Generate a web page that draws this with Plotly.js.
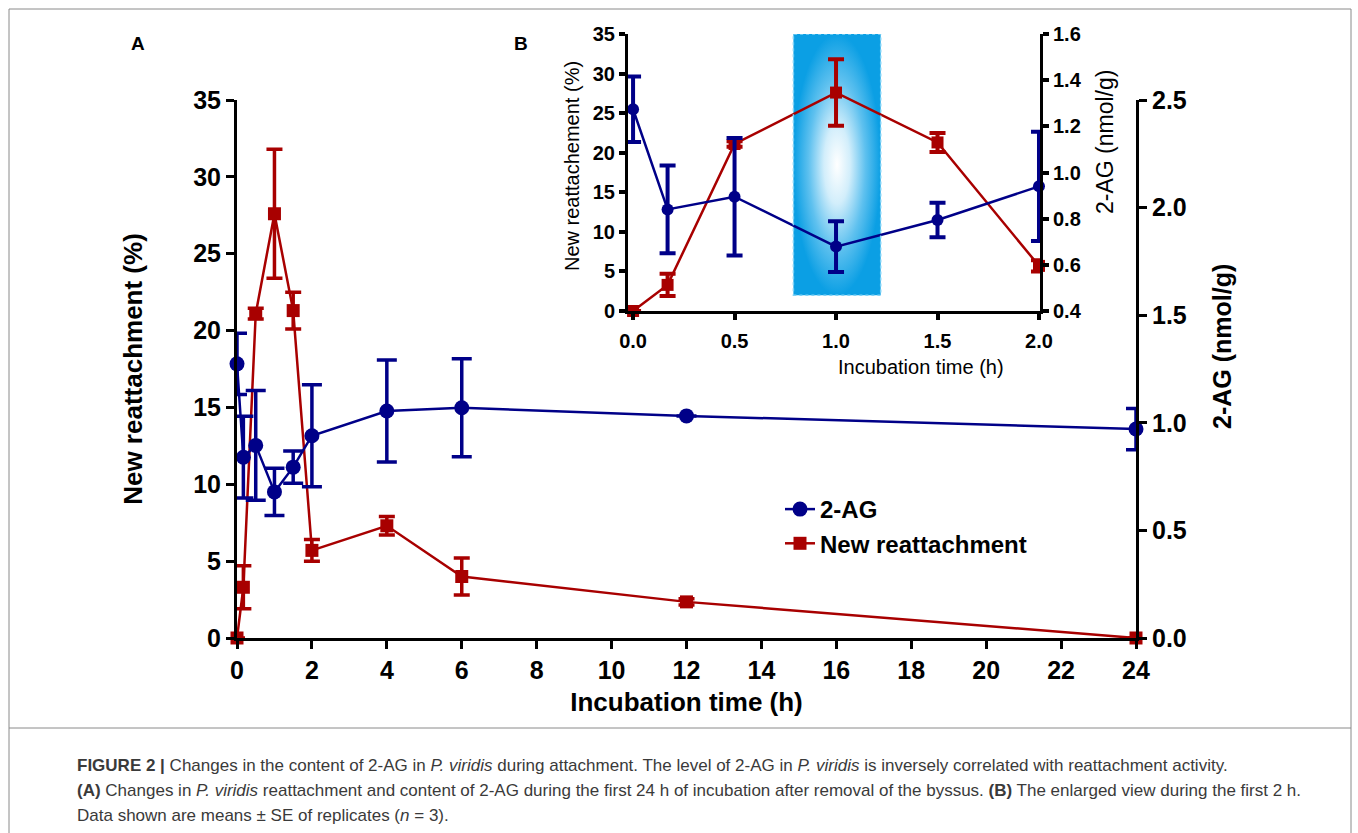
<!DOCTYPE html>
<html>
<head>
<meta charset="utf-8">
<script src="https://cdn.plot.ly/plotly-3.0.1.min.js"></script>
<style>
  html, body { margin: 0; padding: 0; background: #ffffff; }
  #chart { width: 1358px; height: 833px; }
</style>
</head>
<body>
<div id="chart"></div>
<script>
// ---------------- DATA ----------------
const timeH        = [0, 0.17, 0.5, 1, 1.5, 2, 4, 6, 12, 24];           // incubation time (h)
const reattachPct  = [0, 3.3, 21.1, 27.6, 21.3, 5.7, 7.3, 4.0, 2.35, 0]; // new reattachment (%)
const reattachSE   = [0, 1.4, 0.35, 4.2, 1.2, 0.7, 0.6, 1.2, 0.2, 0];
const agNmol       = [1.274, 0.84, 0.895, 0.679, 0.794, 0.94, 1.055, 1.07, 1.032, 0.971]; // 2-AG (nmol/g)
const agSE         = [0.142, 0.19, 0.255, 0.11, 0.075, 0.237, 0.237, 0.228, 0, 0.096];
const insetPoints  = 6;                       // first 2 h shown in panel B
const mainXTicks   = [0, 2, 4, 6, 8, 10, 12, 14, 16, 18, 20, 22, 24];
const insetXTicks  = [0, 0.5, 1, 1.5, 2];
const highlightH   = [0.79, 1.22];            // highlighted window in panel B (h)
const highlightPct = [2, 35];

// ---------------- helpers for page positions ----------------
const W = 1358, H = 833;
const px = x => x / W;
const py = y => 1 - y / H;

const RED = '#a80000';
const BLUE = '#000088';
const FONT = 'Arial, "Liberation Sans", Helvetica, sans-serif';
const CAPFONT = '"Liberation Sans Narrow", "Arial Narrow", Arial, "Liberation Sans", sans-serif';

const tInset = timeH.slice(0, insetPoints);

const traces = [
  // highlight window (panel B)
  {
    type: 'scatter', mode: 'lines', xaxis: 'x2', yaxis: 'y3',
    x: [highlightH[0], highlightH[1], highlightH[1], highlightH[0], highlightH[0]],
    y: [highlightPct[0], highlightPct[0], highlightPct[1], highlightPct[1], highlightPct[0]],
    fill: 'toself', fillcolor: '#4db8ec',
    fillgradient: { type: 'radial', colorscale: [[0, '#ffffff'], [0.3, '#d2eefb'], [0.65, '#5fc1ef'], [1, '#0b9fe4']] },
    line: { width: 0 }, hoverinfo: 'skip', showlegend: false
  },
  // panel A
  {
    type: 'scatter', mode: 'lines+markers', name: 'New reattachment', legendrank: 2,
    x: timeH, y: reattachPct, xaxis: 'x', yaxis: 'y',
    line: { color: RED, width: 2.5 },
    marker: { symbol: 'square', size: 13, color: RED },
    error_y: { type: 'data', array: reattachSE, visible: true, color: RED, thickness: 3.5, width: 8 },
    cliponaxis: false
  },
  {
    type: 'scatter', mode: 'lines+markers', name: '2-AG', legendrank: 1,
    x: timeH, y: agNmol, xaxis: 'x', yaxis: 'y2',
    line: { color: BLUE, width: 2.5 },
    marker: { symbol: 'circle', size: 15, color: BLUE },
    error_y: { type: 'data', array: agSE, visible: true, color: BLUE, thickness: 3.5, width: 10 },
    cliponaxis: false
  },
  // panel B
  {
    type: 'scatter', mode: 'lines+markers', name: 'New reattachment', showlegend: false,
    x: tInset, y: reattachPct.slice(0, insetPoints), xaxis: 'x2', yaxis: 'y3',
    line: { color: RED, width: 2.5 },
    marker: { symbol: 'square', size: 12, color: RED },
    error_y: { type: 'data', array: reattachSE.slice(0, insetPoints), visible: true, color: RED, thickness: 4, width: 8 },
    cliponaxis: false
  },
  {
    type: 'scatter', mode: 'lines+markers', name: '2-AG', showlegend: false,
    x: tInset, y: agNmol.slice(0, insetPoints), xaxis: 'x2', yaxis: 'y4',
    line: { color: BLUE, width: 2.5 },
    marker: { symbol: 'circle', size: 12, color: BLUE },
    error_y: { type: 'data', array: agSE.slice(0, insetPoints), visible: true, color: BLUE, thickness: 4, width: 8 },
    cliponaxis: false
  }
];

const axBase = {
  showline: true, linecolor: '#000', showgrid: false, zeroline: false,
  ticks: 'outside', tickcolor: '#000', fixedrange: true
};
const bigTick = { family: FONT, size: 25, color: '#000', weight: 700 };
const smallTick = { family: FONT, size: 20, color: '#000', weight: 700 };

function label(text, x, y, size, extra) {
  return Object.assign({
    text: text, xref: 'paper', yref: 'paper', x: px(x), y: py(y),
    xanchor: 'center', yanchor: 'middle', showarrow: false,
    font: { family: FONT, size: size, color: '#000' }
  }, extra || {});
}
function caption(text, y) {
  return {
    text: text, xref: 'paper', yref: 'paper', x: px(75), y: py(y),
    xanchor: 'left', yanchor: 'middle', showarrow: false,
    font: { family: CAPFONT, size: 17, color: '#3a3a3a' }
  };
}

const layout = {
  width: W, height: H,
  margin: { l: 0, r: 0, t: 0, b: 0 },
  paper_bgcolor: '#ffffff', plot_bgcolor: 'rgba(0,0,0,0)',
  hovermode: false,
  font: { family: FONT, color: '#000' },
  showlegend: true,
  legend: {
    x: px(780), y: py(487), xanchor: 'left', yanchor: 'top',
    font: { family: FONT, size: 24, color: '#000', weight: 700 },
    bgcolor: 'rgba(0,0,0,0)', itemwidth: 30, tracegroupgap: 0
  },
  // panel A axes
  xaxis: Object.assign({}, axBase, {
    domain: [px(237), px(1136)], anchor: 'y', range: [0, 24],
    tickmode: 'array', tickvals: mainXTicks, linewidth: 3, tickwidth: 3, ticklen: 8,
    tickfont: bigTick, ticklabelstandoff: 0,
    title: { text: 'Incubation time (h)', font: { family: FONT, size: 26, color: '#000', weight: 700 }, standoff: 10 }
  }),
  yaxis: Object.assign({}, axBase, {
    domain: [py(638), py(100)], anchor: 'x', range: [0, 35], dtick: 5, tick0: 0,
    linewidth: 3, tickwidth: 3, ticklen: 8, tickfont: bigTick,
    title: { text: 'New reattachment (%)', font: { family: FONT, size: 26, color: '#000', weight: 700 }, standoff: 44 }
  }),
  yaxis2: Object.assign({}, axBase, {
    overlaying: 'y', side: 'right', anchor: 'x', range: [0, 2.5], dtick: 0.5, tick0: 0,
    tickformat: '.1f', linewidth: 3, tickwidth: 3, ticklen: 8, tickfont: bigTick
  }),
  // panel B axes
  xaxis2: Object.assign({}, axBase, {
    domain: [px(628), px(1040)], anchor: 'y3', range: [-0.025, 2.005],
    tickmode: 'array', tickvals: insetXTicks, tickformat: '.1f',
    linewidth: 3, tickwidth: 4, ticklen: 6, tickfont: smallTick, ticklabelstandoff: 4
  }),
  yaxis3: Object.assign({}, axBase, {
    domain: [py(311), py(34)], anchor: 'x2', range: [0, 35], dtick: 5, tick0: 0,
    linewidth: 3, tickwidth: 4, ticklen: 6, tickfont: smallTick
  }),
  yaxis4: Object.assign({}, axBase, {
    overlaying: 'y3', side: 'right', anchor: 'x2', range: [0.4, 1.6], dtick: 0.2, tick0: 0.4,
    tickformat: '.1f', linewidth: 3, tickwidth: 4, ticklen: 6, tickfont: smallTick
  }),
  shapes: [
    // dotted border of the highlight window
    { type: 'rect', xref: 'x2', yref: 'y3', x0: highlightH[0], x1: highlightH[1], y0: highlightPct[0], y1: highlightPct[1],
      line: { color: '#7fd3f7', width: 1.5, dash: 'dot' }, layer: 'above' },
    // figure frame
    { type: 'line', xref: 'paper', yref: 'paper', x0: px(9), x1: px(1351), y0: py(9), y1: py(9), line: { color: '#8a8a8a', width: 1 } },
    { type: 'line', xref: 'paper', yref: 'paper', x0: px(9), x1: px(9), y0: py(9), y1: py(833), line: { color: '#8a8a8a', width: 1 } },
    { type: 'line', xref: 'paper', yref: 'paper', x0: px(1351), x1: px(1351), y0: py(9), y1: py(833), line: { color: '#8a8a8a', width: 1 } },
    { type: 'line', xref: 'paper', yref: 'paper', x0: px(9), x1: px(1351), y0: py(728), y1: py(728), line: { color: '#8a8a8a', width: 1 } }
  ],
  annotations: [
    label('<b>A</b>', 138, 44, 19),
    label('<b>B</b>', 521, 44, 19),
    // right title panel A
    label('<b>2-AG (nmol/g)</b>', 1222, 347, 25, { textangle: -90 }),
    // panel B titles
    label('New reattachement (%)', 572, 166, 20, { textangle: -90 }),
    label('2-AG (nmol/g)', 1105, 142, 23, { textangle: -90 }),
    label('Incubation time (h)', 921, 367, 20),
    // caption
    caption('<b>FIGURE 2 |</b> Changes in the content of 2-AG in <i>P. viridis</i> during attachment. The level of 2-AG in <i>P. viridis</i> is inversely correlated with reattachment activity.', 765),
    caption('<b>(A)</b> Changes in <i>P. viridis</i> reattachment and content of 2-AG during the first 24 h of incubation after removal of the byssus. <b>(B)</b> The enlarged view during the first 2 h.', 790),
    caption('Data shown are means \u00B1 SE of replicates (<i>n</i> = 3).', 815)
  ]
};

Plotly.newPlot('chart', traces, layout, { displayModeBar: false, staticPlot: true });
</script>
</body>
</html>
